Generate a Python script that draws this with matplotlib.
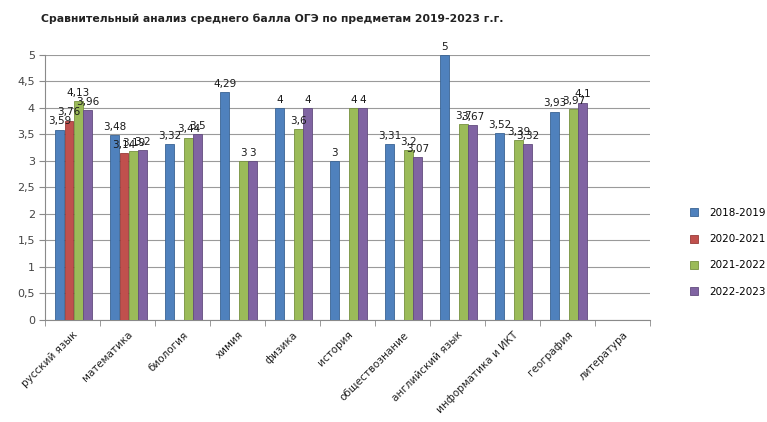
import numpy as np
import matplotlib.pyplot as plt
import matplotlib.transforms as mtransforms
from matplotlib.ticker import FuncFormatter

# subjects and mean OGE scores per school year
subjects = ['русский язык', 'математика', 'биология', 'химия', 'физика', 'история',
            'обществознание', 'английский язык', 'информатика и ИКТ', 'география', 'литература']
years = ['2018-2019', '2020-2021', '2021-2022', '2022-2023']
s2018 = [3.59, 3.48, 3.32, 4.29, 4, 3, 3.31, 5, 3.52, 3.93, np.nan]
s2020 = [3.76, 3.14, np.nan, np.nan, np.nan, np.nan, np.nan, np.nan, np.nan, np.nan, np.nan]
s2021 = [4.13, 3.19, 3.44, 3, 3.6, 4, 3.2, 3.7, 3.39, 3.97, np.nan]
s2022 = [3.96, 3.2, 3.5, 3, 4, 4, 3.07, 3.67, 3.32, 4.1, np.nan]
series = [s2018, s2020, s2021, s2022]
colors = ['#4F81BD', '#C0504D', '#9BBB59', '#8064A2']
edges = ['#3A6494', '#983B39', '#77913F', '#624C7E']

fig = plt.figure(figsize=(7.67, 4.22), dpi=100)
ax = fig.add_axes([0.059, 0.242, 0.789, 0.628])

x = np.arange(len(subjects))
w = 0.17
for i, (vals, c, ec, lab) in enumerate(zip(series, colors, edges, years)):
    pos = x + (i - 1.4) * w
    ax.bar(pos, vals, w * 0.95, color=c, edgecolor=ec, linewidth=0.6, label=lab, zorder=3)
    for p, v in zip(pos, vals):
        if np.isnan(v):
            continue
        ax.text(p, v + 0.06, f'{v:g}'.replace('.', ','), ha='center', va='bottom',
                fontsize=7.5, color='#1a1a1a', zorder=4)

ax.set_xlim(-0.5, len(subjects) - 0.5)
ax.set_ylim(0, 5)
ax.set_yticks(np.arange(0, 5.01, 0.5))
ax.yaxis.set_major_formatter(FuncFormatter(lambda v, p: f'{v:g}'.replace('.', ',')))
ax.grid(axis='y', color='#9a9a9a', linewidth=0.8, zorder=0)
ax.set_xticks(np.arange(len(subjects) + 1) - 0.5, minor=True)
ax.set_xticks(x)
ax.set_xticklabels(subjects, rotation=45, ha='right', va='top', rotation_mode='anchor',
                   fontsize=7.5, color='#222222')
# shift category labels slightly left, as in the original layout
shift = mtransforms.ScaledTranslation(-10 / 100, 0, fig.dpi_scale_trans)
for t in ax.get_xticklabels():
    t.set_transform(t.get_transform() + shift)
ax.tick_params(axis='x', which='major', length=0, pad=7)
ax.tick_params(axis='x', which='minor', length=4, color='#8a8a8a')
ax.tick_params(axis='y', length=4, color='#8a8a8a', labelsize=8, labelcolor='#444444')
for s in ['top', 'right']:
    ax.spines[s].set_visible(False)
ax.spines['left'].set_color('#8a8a8a')
ax.spines['bottom'].set_color('#8a8a8a')

fig.text(0.355, 0.955, 'Сравнительный анализ среднего балла ОГЭ по предметам 2019-2023 г.г.',
         ha='center', va='center', fontsize=7.8, fontweight='bold', color='#222222')

ax.legend(loc='center left', bbox_to_anchor=(1.05, 0.255), frameon=False, fontsize=7.5,
          handlelength=0.8, handleheight=0.8, labelspacing=1.55, handletextpad=1.0)

fig.savefig('out.png', dpi=100)
